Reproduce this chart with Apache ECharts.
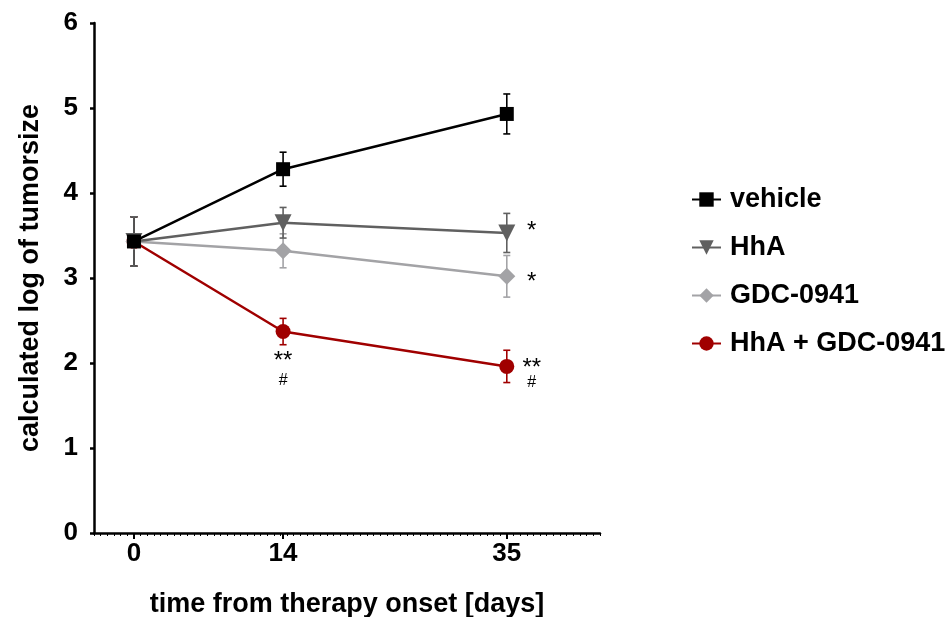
<!DOCTYPE html>
<html>
<head>
<meta charset="utf-8">
<script src="https://cdn.jsdelivr.net/npm/echarts@6/dist/echarts.min.js"></script>
<style>
html,body{margin:0;padding:0;background:#fff;}
#chart{width:952px;height:617px;}
</style>
</head>
<body>
<div id="chart"></div>
<script>
const days = [0, 14, 35];
const seriesNames = ['vehicle', 'HhA', 'GDC-0941', 'HhA + GDC-0941'];
const vehicleMean = [3.43, 4.28, 4.93];
const vehicleErr  = [0.29, 0.20, 0.235];
const hhaMean = [3.43, 3.65, 3.53];
const hhaErr  = [0.29, 0.18, 0.23];
const gdcMean = [3.43, 3.32, 3.02];
const gdcErr  = [0.29, 0.20, 0.245];
const comboMean = [3.43, 2.37, 1.96];
const comboErr  = [0.29, 0.155, 0.19];
const xTickValues = [0, 14, 35];

const annotSeries = [1, 2, 3, 3];
const annotDay = [35, 35, 14, 35];
const annotText = ['*', '*', '**', '**'];
const annotSub = ['', '', '#', '#'];
const annotPlace = ['right', 'right', 'below', 'right'];

const means = [vehicleMean, hhaMean, gdcMean, comboMean];
const errs = [vehicleErr, hhaErr, gdcErr, comboErr];
const colors = ['#000000', '#606060', '#a3a3a6', '#a00000'];
const symbols = ['rect', 'triangle', 'diamond', 'circle'];
const symbolSizes = [14, 17, 17, 15];
const symbolRot = [0, 180, 0, 0];
const annotShift = [-2, 6, 0, 0];

const FONT = '"Liberation Sans", Arial, sans-serif';
const FS = 26;
const FT = 27;

const series = [];
// error bars (behind markers)
[3, 2, 0, 1].forEach(si => {
  const m = means[si];
  const data = days.map((d, i) => [d, m[i] - errs[si][i], m[i] + errs[si][i]]);
  series.push({
    type: 'custom',
    name: seriesNames[si] + ' err',
    xAxisIndex: 0,
    z: 2,
    silent: true,
    renderItem: function (params, api) {
      const x = api.value(0);
      const lo = api.coord([x, api.value(1)]);
      const hi = api.coord([x, api.value(2)]);
      const cw = 3.5;
      const st = { stroke: colors[si], lineWidth: 1.6 };
      return {
        type: 'group',
        children: [
          { type: 'line', shape: { x1: lo[0], y1: lo[1], x2: hi[0], y2: hi[1] }, style: st },
          { type: 'line', shape: { x1: lo[0] - cw, y1: lo[1], x2: lo[0] + cw, y2: lo[1] }, style: st },
          { type: 'line', shape: { x1: hi[0] - cw, y1: hi[1], x2: hi[0] + cw, y2: hi[1] }, style: st }
        ]
      };
    },
    data: data
  });
});
// lines
[3, 2, 1, 0].forEach(si => {
  series.push({
    type: 'line',
    name: seriesNames[si],
    xAxisIndex: 0,
    z: 3 + (3 - si),
    data: days.map((d, i) => [d, means[si][i]]),
    symbol: symbols[si],
    symbolSize: symbolSizes[si],
    symbolRotate: symbolRot[si],
    showAllSymbol: true,
    lineStyle: { color: colors[si], width: 2.5 },
    itemStyle: { color: colors[si] },
    emphasis: { disabled: true },
    animation: false
  });
});
// significance annotations
series.push({
  type: 'custom',
  name: 'annotations',
  xAxisIndex: 0,
  z: 10,
  silent: true,
  renderItem: function (params, api) {
    const i = params.dataIndex;
    const p = api.coord([api.value(0), api.value(1)]);
    const place = annotPlace[i];
    let ax, ay, bx, by;
    if (place === 'right') {
      ax = p[0] + 25; bx = p[0] + 25;
      if (annotSub[i]) { ay = p[1] + 2; by = p[1] + 16; } else { ay = p[1] + annotShift[i]; }
    } else {
      ax = p[0]; bx = p[0];
      ay = p[1] + 30; by = p[1] + 49;
    }
    const children = [
      { type: 'text', x: ax, y: ay, style: { text: annotText[i], font: '24px ' + FONT, fill: '#000', align: 'center', verticalAlign: 'middle' } }
    ];
    if (annotSub[i]) {
      children.push({ type: 'text', x: bx, y: by, style: { text: annotSub[i], font: '16px ' + FONT, fill: '#000', align: 'center', verticalAlign: 'middle' } });
    }
    return { type: 'group', children: children };
  },
  data: annotDay.map((d, i) => [d, means[annotSeries[i]][days.indexOf(d)]])
});

const chart = echarts.init(document.getElementById('chart'), null, { renderer: 'canvas' });
chart.setOption({
  animation: false,
  backgroundColor: '#fff',
  textStyle: { fontFamily: FONT },
  grid: { left: 94, right: 352, top: 23, bottom: 84, containLabel: false, outerBoundsMode: 'none' },
  legend: {
    orient: 'vertical',
    left: 686,
    top: 181,
    itemWidth: 29,
    itemHeight: 18,
    itemGap: 21,
    data: seriesNames,
    textStyle: { fontSize: FT, fontWeight: 'bold', color: '#000', fontFamily: FONT, padding: [0, 0, 0, 4] },
    selectedMode: false
  },
  xAxis: [
    {
      type: 'value',
      min: -3.75,
      max: 43.75,
      name: 'time from therapy onset [days]',
      nameLocation: 'middle',
      nameGap: 58,
      nameTextStyle: { fontSize: FT, fontWeight: 'bold', color: '#000', fontFamily: FONT },
      axisLine: { show: true, onZero: false, lineStyle: { color: '#000', width: 2.5 } },
      axisTick: { show: true, length: 6, customValues: xTickValues, lineStyle: { color: '#000', width: 2 } },
      axisLabel: { show: true, customValues: xTickValues, margin: 8, fontSize: FS, fontWeight: 'bold', color: '#000', fontFamily: FONT },
      splitLine: { show: false }
    },
    {
      type: 'value',
      min: -3.75,
      max: 43.75,
      interval: 0.625,
      position: 'bottom',
      axisLine: { show: false, onZero: false },
      axisTick: { show: true, length: 3, lineStyle: { color: '#000', width: 1 } },
      axisLabel: { show: false },
      splitLine: { show: false }
    }
  ],
  yAxis: {
    type: 'value',
    min: 0,
    max: 6,
    interval: 1,
    name: 'calculated log of tumorsize',
    nameLocation: 'middle',
    nameGap: 50,
    nameTextStyle: { fontSize: FT, fontWeight: 'bold', color: '#000', fontFamily: FONT },
    axisLine: { show: true, onZero: false, lineStyle: { color: '#000', width: 2.5 } },
    axisTick: { show: true, length: 4, lineStyle: { color: '#000', width: 2.5 } },
    axisLabel: { margin: 16, fontSize: FS, fontWeight: 'bold', color: '#000', fontFamily: FONT },
    splitLine: { show: false }
  },
  series: series
});
</script>
</body>
</html>
